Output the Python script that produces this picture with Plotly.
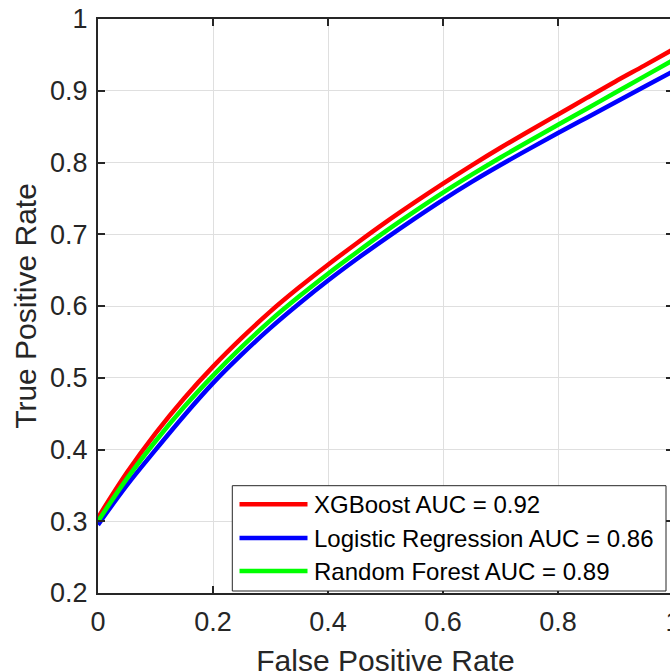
import plotly.graph_objects as go

# ---------------- data ----------------
fpr = [0.00, 0.05, 0.10, 0.15, 0.20, 0.25, 0.30, 0.35, 0.40, 0.45, 0.50,
       0.55, 0.60, 0.65, 0.70, 0.75, 0.80, 0.85, 0.90, 0.95, 1.00]
tpr_xgb = [0.305, 0.3675, 0.4225, 0.4715, 0.5155, 0.5555, 0.5925, 0.626, 0.6575, 0.6875, 0.7165,
           0.744, 0.7705, 0.796, 0.8205, 0.844, 0.867, 0.890, 0.913, 0.935, 0.9575]
tpr_lr = [0.295, 0.350, 0.3995, 0.4475, 0.4925, 0.5325, 0.5695, 0.6035, 0.6355, 0.6655, 0.694,
          0.7215, 0.748, 0.773, 0.7965, 0.819, 0.841, 0.8625, 0.884, 0.9055, 0.927]
tpr_rf = [0.300, 0.359, 0.4115, 0.4595, 0.503, 0.543, 0.580, 0.6135, 0.645, 0.675, 0.704,
          0.7315, 0.758, 0.783, 0.807, 0.830, 0.8525, 0.875, 0.8975, 0.920, 0.9425]

series_names = ["XGBoost AUC = 0.92", "Logistic Regression AUC = 0.86", "Random Forest AUC = 0.89"]
series_colors = ["#FF0000", "#0000FF", "#00FF00"]

x_tickvals = [0, 0.2, 0.4, 0.6, 0.8, 1]
x_ticktext = ["0", "0.2", "0.4", "0.6", "0.8", "1"]
y_tickvals = [0.2, 0.3, 0.4, 0.5, 0.6, 0.7, 0.8, 0.9, 1.0]
y_ticktext = ["0.2", "0.3", "0.4", "0.5", "0.6", "0.7", "0.8", "0.9", "1"]

# ---------------- geometry (page margin removed, so figure px = screen px) ----------------
# the figure is a little larger than the 670x672 window: the plot's right edge and the
# bottom of the x-axis title run just past the window edges, as in the reference
L, T = 98, 19
PW, PH = 575, 574
R, B = 0, 89
W = L + PW + R
H = T + PH + B

FONT = "Liberation Sans, Arial, sans-serif"
TXT = "#262626"
GRID = "#dfdfdf"


def sx(px):
    """screen x pixel -> paper x"""
    return (px - L) / PW


def sy(py):
    """screen y pixel -> paper y"""
    return (T + PH - py) / PH


fig = go.Figure()
for ys, name, col in zip([tpr_xgb, tpr_lr, tpr_rf], series_names, series_colors):
    fig.add_trace(go.Scatter(x=fpr, y=ys, mode="lines", name=name,
                             line=dict(color=col, width=4.5, shape="spline", smoothing=1.0),
                             showlegend=False))

fig.update_layout(
    width=W, height=H,
    margin=dict(l=L, r=R, t=T, b=B, autoexpand=False),
    paper_bgcolor="white", plot_bgcolor="white",
    font=dict(family=FONT, color=TXT),
    xaxis=dict(
        range=[0, 1], tickvals=x_tickvals, ticktext=x_ticktext,
        showgrid=True, gridcolor=GRID, gridwidth=1, zeroline=False,
        showline=True, linecolor=TXT, linewidth=2, mirror="ticks",
        ticks="inside", ticklen=7, tickwidth=2, tickcolor=TXT,
        tickfont=dict(size=27, color=TXT, family=FONT),
        ticklabelstandoff=4, ticklabeloverflow="allow",
        title=dict(text="False Positive Rate", font=dict(size=30, color=TXT, family=FONT), standoff=14),
        automargin=False,
    ),
    yaxis=dict(
        range=[0.2, 1.0], tickvals=y_tickvals, ticktext=y_ticktext,
        showgrid=True, gridcolor=GRID, gridwidth=1, zeroline=False,
        showline=True, linecolor=TXT, linewidth=2, mirror="ticks",
        ticks="inside", ticklen=7, tickwidth=2, tickcolor=TXT,
        tickfont=dict(size=27, color=TXT, family=FONT),
        ticklabelstandoff=3, ticklabeloverflow="allow",
        title=dict(text="True Positive Rate", font=dict(size=30, color=TXT, family=FONT), standoff=5),
        automargin=False,
    ),
)

# ---------------- legend (drawn to match the long line samples) ----------------
box = dict(x0=232.3, x1=666.0, y0=485.7, y1=591.0)
fig.add_shape(type="rect", xref="paper", yref="paper",
              x0=sx(box["x0"]), x1=sx(box["x1"]), y0=sy(box["y1"]), y1=sy(box["y0"]),
              line=dict(color=TXT, width=1), fillcolor="white", layer="above")
row_y = [504.3, 538.0, 571.0]
for ry, name, col in zip(row_y, series_names, series_colors):
    fig.add_shape(type="line", xref="paper", yref="paper",
                  x0=sx(239.5), x1=sx(307.5), y0=sy(ry), y1=sy(ry),
                  line=dict(color=col, width=4.5), layer="above")
    fig.add_annotation(xref="paper", yref="paper", x=sx(311.5), y=sy(ry),
                       xanchor="left", yanchor="middle", text=name, showarrow=False,
                       font=dict(size=24, color="#000000", family=FONT))

# remove the default page margin / scrollbars so the figure sits at the window's origin
page_css = ("document.documentElement.style.overflow='hidden';"
            "document.body.style.overflow='hidden';"
            "document.body.style.margin='0';")
fig.write_html("out.html", post_script=page_css, config={"displayModeBar": False})
